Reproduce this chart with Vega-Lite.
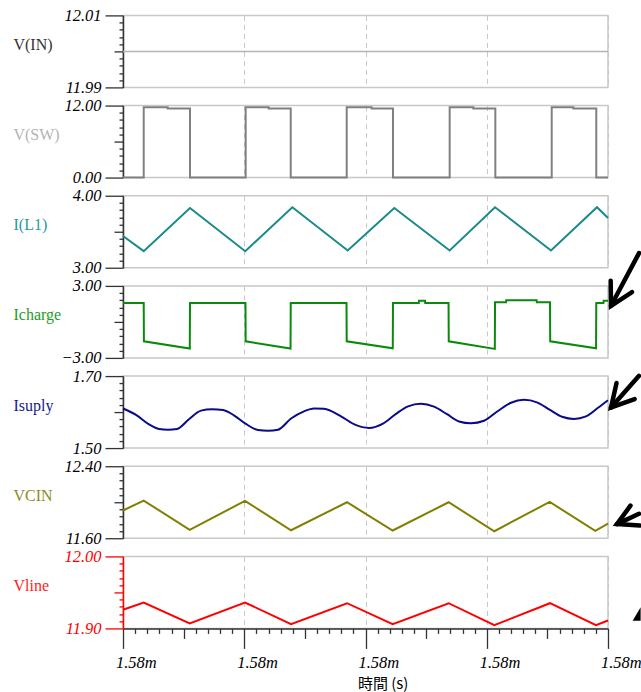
{
  "$schema": "https://vega.github.io/schema/vega-lite/v6.json",
  "background": "white",
  "padding": {"left": 12, "top": 6.4, "right": 0, "bottom": 0},
  "bounds": "flush",
  "spacing": 18.17,
  "config": {
    "view": {"stroke": "#c8c8c8", "strokeWidth": 1.5},
    "axisY": {
      "domainColor": "#333333", "domainWidth": 1.5, "tickColor": "#333333", "tickWidth": 1.3,
      "labelFont": "Liberation Serif", "labelFontStyle": "italic", "labelFontSize": 16.5, "labelColor": "#000000",
      "labelPadding": 4, "labelOverlap": false, "labelBaseline": "middle",
      "titleFont": "Liberation Serif", "titleFontSize": 16, "titleFontWeight": "normal", "titleAngle": 0,
      "titleAlign": "left", "titleBaseline": "middle", "titleX": -110, "titleY": 29, "grid": false
    }
  },
  "datasets": {
    "vin": [{"t": 1577.6, "v": 12.0}, {"t": 1578.9, "v": 12.0}, {"t": 1580.5, "v": 12.0}, {"t": 1582.4, "v": 12.0}],
    "vsw": [
      {"t": 1577.600, "v": 0}, {"t": 1577.805, "v": 11.72}, {"t": 1578.042, "v": 11.5}, {"t": 1578.263, "v": 0},
      {"t": 1578.814, "v": 11.72}, {"t": 1579.042, "v": 11.5}, {"t": 1579.260, "v": 0},
      {"t": 1579.814, "v": 11.72}, {"t": 1580.061, "v": 11.5}, {"t": 1580.272, "v": 0},
      {"t": 1580.833, "v": 11.72}, {"t": 1581.067, "v": 11.5}, {"t": 1581.285, "v": 0},
      {"t": 1581.843, "v": 11.72}, {"t": 1582.057, "v": 11.5}, {"t": 1582.284, "v": 0}, {"t": 1582.400, "v": 0}
    ],
    "il1": [
      {"t": 1577.600, "v": 3.44}, {"t": 1577.805, "v": 3.23}, {"t": 1578.263, "v": 3.83}, {"t": 1578.810, "v": 3.23},
      {"t": 1579.276, "v": 3.84}, {"t": 1579.824, "v": 3.24}, {"t": 1580.285, "v": 3.83}, {"t": 1580.833, "v": 3.24},
      {"t": 1581.282, "v": 3.84}, {"t": 1581.836, "v": 3.24}, {"t": 1582.291, "v": 3.84}, {"t": 1582.400, "v": 3.69}
    ],
    "icharge": [
      {"t": 1577.600, "v": 1.58}, {"t": 1577.805, "v": 1.58}, {"t": 1577.807, "v": -1.62}, {"t": 1578.261, "v": -2.22},
      {"t": 1578.263, "v": 1.58}, {"t": 1578.812, "v": 1.58}, {"t": 1578.814, "v": -1.62}, {"t": 1579.258, "v": -2.22},
      {"t": 1579.260, "v": 1.58}, {"t": 1579.812, "v": 1.58}, {"t": 1579.814, "v": -1.62}, {"t": 1580.270, "v": -2.2},
      {"t": 1580.272, "v": 1.58}, {"t": 1580.527, "v": 1.58}, {"t": 1580.529, "v": 1.77}, {"t": 1580.589, "v": 1.77},
      {"t": 1580.591, "v": 1.58}, {"t": 1580.822, "v": 1.58}, {"t": 1580.824, "v": -1.62}, {"t": 1581.280, "v": -2.25},
      {"t": 1581.282, "v": 1.63}, {"t": 1581.391, "v": 1.63}, {"t": 1581.393, "v": 1.8}, {"t": 1581.694, "v": 1.8},
      {"t": 1581.696, "v": 1.63}, {"t": 1581.826, "v": 1.63}, {"t": 1581.828, "v": -1.62}, {"t": 1582.282, "v": -2.2},
      {"t": 1582.284, "v": 1.58}, {"t": 1582.355, "v": 1.58}, {"t": 1582.357, "v": 1.77}, {"t": 1582.400, "v": 1.77}
    ],
    "isuply": [
      {"t": 1577.600, "v": 1.610}, {"t": 1577.729, "v": 1.592}, {"t": 1577.857, "v": 1.566}, {"t": 1577.956, "v": 1.553},
      {"t": 1578.045, "v": 1.551}, {"t": 1578.134, "v": 1.553}, {"t": 1578.253, "v": 1.580}, {"t": 1578.372, "v": 1.604},
      {"t": 1578.481, "v": 1.608}, {"t": 1578.590, "v": 1.606}, {"t": 1578.698, "v": 1.591}, {"t": 1578.817, "v": 1.567},
      {"t": 1578.936, "v": 1.550}, {"t": 1579.035, "v": 1.548}, {"t": 1579.134, "v": 1.551}, {"t": 1579.263, "v": 1.582},
      {"t": 1579.391, "v": 1.602}, {"t": 1579.490, "v": 1.610}, {"t": 1579.589, "v": 1.609}, {"t": 1579.758, "v": 1.588},
      {"t": 1579.896, "v": 1.565}, {"t": 1580.035, "v": 1.556}, {"t": 1580.173, "v": 1.568}, {"t": 1580.302, "v": 1.595},
      {"t": 1580.421, "v": 1.616}, {"t": 1580.549, "v": 1.623}, {"t": 1580.678, "v": 1.615}, {"t": 1580.807, "v": 1.594},
      {"t": 1580.925, "v": 1.574}, {"t": 1581.044, "v": 1.569}, {"t": 1581.173, "v": 1.576}, {"t": 1581.311, "v": 1.603},
      {"t": 1581.440, "v": 1.626}, {"t": 1581.569, "v": 1.634}, {"t": 1581.697, "v": 1.627}, {"t": 1581.826, "v": 1.606},
      {"t": 1581.945, "v": 1.587}, {"t": 1582.064, "v": 1.581}, {"t": 1582.182, "v": 1.588}, {"t": 1582.301, "v": 1.612},
      {"t": 1582.400, "v": 1.633}
    ],
    "vcin": [
      {"t": 1577.600, "v": 11.908}, {"t": 1577.805, "v": 12.019}, {"t": 1578.260, "v": 11.693}, {"t": 1578.807, "v": 12.015},
      {"t": 1579.263, "v": 11.689}, {"t": 1579.817, "v": 12.0}, {"t": 1580.269, "v": 11.686}, {"t": 1580.823, "v": 12.0},
      {"t": 1581.275, "v": 11.678}, {"t": 1581.823, "v": 12.004}, {"t": 1582.274, "v": 11.682}, {"t": 1582.400, "v": 11.763}
    ],
    "vline": [
      {"t": 1577.600, "v": 11.926}, {"t": 1577.805, "v": 11.936}, {"t": 1578.260, "v": 11.907}, {"t": 1578.807, "v": 11.936},
      {"t": 1579.263, "v": 11.906}, {"t": 1579.817, "v": 11.935}, {"t": 1580.269, "v": 11.906}, {"t": 1580.823, "v": 11.935},
      {"t": 1581.275, "v": 11.9045}, {"t": 1581.826, "v": 11.935}, {"t": 1582.281, "v": 11.9045}, {"t": 1582.400, "v": 11.911}
    ]
  },
  "vconcat": [
    {
      "width": 485, "height": 72,
      "data": {"name": "vin"},
      "mark": {"type": "line", "color": "#b4b4b4", "strokeWidth": 1.5},
      "encoding": {
        "x": {"field": "t", "type": "quantitative", "scale": {"domain": [1577.6, 1582.4], "nice": false, "zero": false},
          "axis": {"values": [1577.6, 1578.8, 1580.0, 1581.2, 1582.4], "labels": false, "ticks": false, "domain": false, "grid": true, "gridColor": "#c8c8c8", "gridDash": [5, 4], "gridWidth": 1, "title": null}},
        "y": {"field": "v", "type": "quantitative", "scale": {"domain": [11.99, 12.01], "nice": false, "zero": false},
          "axis": {"title": "V(IN)", "titleColor": "#333333",
            "values": [11.99, 11.992, 11.994, 11.996, 11.998, 12.0, 12.002, 12.004, 12.006, 12.008, 12.01],
            "labelExpr": "datum.index == 0 || datum.index == 1 ? format(datum.value, '.2f') : ''",
            "tickSize": {"condition": [{"test": "datum.index == 0 || datum.index == 1", "value": 18}, {"test": "abs(datum.index - 0.5) < 0.01", "value": 9}], "value": 4}}}
      }
    },
    {
      "width": 485, "height": 72,
      "data": {"name": "vsw"},
      "mark": {"type": "line", "color": "#808080", "strokeWidth": 2, "interpolate": "step-after"},
      "encoding": {
        "x": {"field": "t", "type": "quantitative", "scale": {"domain": [1577.6, 1582.4], "nice": false, "zero": false},
          "axis": {"values": [1577.6, 1578.8, 1580.0, 1581.2, 1582.4], "labels": false, "ticks": false, "domain": false, "grid": true, "gridColor": "#c8c8c8", "gridDash": [5, 4], "gridWidth": 1, "title": null}},
        "y": {"field": "v", "type": "quantitative", "scale": {"domain": [0, 12], "nice": false, "zero": false},
          "axis": {"title": "V(SW)", "titleColor": "#b4b4b4",
            "values": [0, 1.2, 2.4, 3.6, 4.8, 6, 7.2, 8.4, 9.6, 10.8, 12],
            "labelExpr": "datum.index == 0 || datum.index == 1 ? format(datum.value, '.2f') : ''",
            "tickSize": {"condition": [{"test": "datum.index == 0 || datum.index == 1", "value": 18}, {"test": "abs(datum.index - 0.5) < 0.01", "value": 9}], "value": 4}}}
      }
    },
    {
      "width": 485, "height": 72,
      "data": {"name": "il1"},
      "mark": {"type": "line", "color": "#1a8a8a", "strokeWidth": 2},
      "encoding": {
        "x": {"field": "t", "type": "quantitative", "scale": {"domain": [1577.6, 1582.4], "nice": false, "zero": false},
          "axis": {"values": [1577.6, 1578.8, 1580.0, 1581.2, 1582.4], "labels": false, "ticks": false, "domain": false, "grid": true, "gridColor": "#c8c8c8", "gridDash": [5, 4], "gridWidth": 1, "title": null}},
        "y": {"field": "v", "type": "quantitative", "scale": {"domain": [3, 4], "nice": false, "zero": false},
          "axis": {"title": "I(L1)", "titleColor": "#2a9a9a",
            "values": [3, 3.1, 3.2, 3.3, 3.4, 3.5, 3.6, 3.7, 3.8, 3.9, 4],
            "labelExpr": "datum.index == 0 || datum.index == 1 ? format(datum.value, '.2f') : ''",
            "tickSize": {"condition": [{"test": "datum.index == 0 || datum.index == 1", "value": 18}, {"test": "abs(datum.index - 0.5) < 0.01", "value": 9}], "value": 4}}}
      }
    },
    {
      "width": 485, "height": 72,
      "encoding": {
        "x": {"field": "t", "type": "quantitative", "scale": {"domain": [1577.6, 1582.4], "nice": false, "zero": false},
          "axis": {"values": [1577.6, 1578.8, 1580.0, 1581.2, 1582.4], "labels": false, "ticks": false, "domain": false, "grid": true, "gridColor": "#c8c8c8", "gridDash": [5, 4], "gridWidth": 1, "title": null}},
        "y": {"field": "v", "type": "quantitative", "scale": {"domain": [-3, 3], "nice": false, "zero": false},
          "axis": {"title": "Icharge", "titleColor": "#2a9a2a",
            "values": [-3, -2.4, -1.8, -1.2, -0.6, 0, 0.6, 1.2, 1.8, 2.4, 3],
            "labelExpr": "datum.index == 0 || datum.index == 1 ? format(datum.value, '.2f') : ''",
            "tickSize": {"condition": [{"test": "datum.index == 0 || datum.index == 1", "value": 18}, {"test": "abs(datum.index - 0.5) < 0.01", "value": 9}], "value": 4}}}
      },
      "layer": [
        {"data": {"name": "icharge"}, "mark": {"type": "line", "color": "#0a8a0a", "strokeWidth": 2}},
        {"data": {"values": [{"t": 1582.430, "v": 1.342, "t2": 1582.707, "v2": 5.733}]},
          "mark": {"type": "rule", "color": "#000000", "strokeWidth": 4.5, "strokeCap": "round"},
          "encoding": {"x2": {"field": "t2"}, "y2": {"field": "v2"}}},
        {"data": {"values": [{"t": 1582.430, "v": 1.342}]},
          "mark": {"type": "point", "shape": "M-1,-0.55L0,0L-1,0.55", "size": 1936, "angle": 118, "filled": false, "color": "#000000", "strokeWidth": 4.5, "strokeCap": "round", "opacity": 1}}
      ]
    },
    {
      "width": 485, "height": 72,
      "encoding": {
        "x": {"field": "t", "type": "quantitative", "scale": {"domain": [1577.6, 1582.4], "nice": false, "zero": false},
          "axis": {"values": [1577.6, 1578.8, 1580.0, 1581.2, 1582.4], "labels": false, "ticks": false, "domain": false, "grid": true, "gridColor": "#c8c8c8", "gridDash": [5, 4], "gridWidth": 1, "title": null}},
        "y": {"field": "v", "type": "quantitative", "scale": {"domain": [1.5, 1.7], "nice": false, "zero": false},
          "axis": {"title": "Isuply", "titleColor": "#1a1a8c",
            "values": [1.5, 1.52, 1.54, 1.56, 1.58, 1.6, 1.62, 1.64, 1.66, 1.68, 1.7],
            "labelExpr": "datum.index == 0 || datum.index == 1 ? format(datum.value, '.2f') : ''",
            "tickSize": {"condition": [{"test": "datum.index == 0 || datum.index == 1", "value": 18}, {"test": "abs(datum.index - 0.5) < 0.01", "value": 9}], "value": 4}}}
      },
      "layer": [
        {"data": {"name": "isuply"}, "mark": {"type": "line", "color": "#0a0a8a", "strokeWidth": 2, "interpolate": "monotone"}},
        {"data": {"values": [{"t": 1582.430, "v": 1.6128, "t2": 1582.707, "v2": 1.7006}]},
          "mark": {"type": "rule", "color": "#000000", "strokeWidth": 4.5, "strokeCap": "round"},
          "encoding": {"x2": {"field": "t2"}, "y2": {"field": "v2"}}},
        {"data": {"values": [{"t": 1582.430, "v": 1.6128}]},
          "mark": {"type": "point", "shape": "M-1,-0.55L0,0L-1,0.55", "size": 1936, "angle": 131.5, "filled": false, "color": "#000000", "strokeWidth": 4.5, "strokeCap": "round", "opacity": 1}}
      ]
    },
    {
      "width": 485, "height": 72,
      "encoding": {
        "x": {"field": "t", "type": "quantitative", "scale": {"domain": [1577.6, 1582.4], "nice": false, "zero": false},
          "axis": {"values": [1577.6, 1578.8, 1580.0, 1581.2, 1582.4], "labels": false, "ticks": false, "domain": false, "grid": true, "gridColor": "#c8c8c8", "gridDash": [5, 4], "gridWidth": 1, "title": null}},
        "y": {"field": "v", "type": "quantitative", "scale": {"domain": [11.6, 12.4], "nice": false, "zero": false},
          "axis": {"title": "VCIN", "titleColor": "#8c8c1e",
            "values": [11.6, 11.68, 11.76, 11.84, 11.92, 12.0, 12.08, 12.16, 12.24, 12.32, 12.4],
            "labelExpr": "datum.index == 0 || datum.index == 1 ? format(datum.value, '.2f') : ''",
            "tickSize": {"condition": [{"test": "datum.index == 0 || datum.index == 1", "value": 18}, {"test": "abs(datum.index - 0.5) < 0.01", "value": 9}], "value": 4}}}
      },
      "layer": [
        {"data": {"name": "vcin"}, "mark": {"type": "line", "color": "#808000", "strokeWidth": 2}},
        {"data": {"values": [{"t": 1582.489, "v": 11.757, "t2": 1582.707, "v2": 11.872}]},
          "mark": {"type": "rule", "color": "#000000", "strokeWidth": 4.5, "strokeCap": "round"},
          "encoding": {"x2": {"field": "t2"}, "y2": {"field": "v2"}}},
        {"data": {"values": [{"t": 1582.489, "v": 11.757}]},
          "mark": {"type": "point", "shape": "M-1,-0.55L0,0L-1,0.55", "size": 1600, "angle": 154.9, "filled": false, "color": "#000000", "strokeWidth": 4.5, "strokeCap": "round", "opacity": 1}}
      ]
    },
    {
      "width": 485, "height": 72,
      "encoding": {
        "x": {"field": "t", "type": "quantitative", "scale": {"domain": [1577.6, 1582.4], "nice": false, "zero": false},
          "axis": {
            "values": [1577.6, 1577.72, 1577.84, 1577.96, 1578.08, 1578.2, 1578.32, 1578.44, 1578.56, 1578.68, 1578.8, 1578.92, 1579.04, 1579.16, 1579.28, 1579.4, 1579.52, 1579.64, 1579.76, 1579.88, 1580.0, 1580.12, 1580.24, 1580.36, 1580.48, 1580.6, 1580.72, 1580.84, 1580.96, 1581.08, 1581.2, 1581.32, 1581.44, 1581.56, 1581.68, 1581.8, 1581.92, 1582.04, 1582.16, 1582.28, 1582.4],
            "labelExpr": "round(datum.index * 40) % 10 == 0 ? format(datum.value / 1000, '.2f') + 'm' : ''",
            "tickSize": {"condition": [{"test": "round(datum.index * 40) % 10 == 0", "value": 20}, {"test": "round(datum.index * 40) % 5 == 0", "value": 10}], "value": 5},
            "gridOpacity": {"condition": {"test": "round(datum.index * 40) % 10 == 0", "value": 1}, "value": 0},
            "grid": true, "gridColor": "#c8c8c8", "gridDash": [5, 4], "gridWidth": 1,
            "domainColor": "#333333", "domainWidth": 1.5, "tickColor": "#333333", "tickWidth": 1.3,
            "labelFont": "Liberation Serif", "labelFontStyle": "italic", "labelFontSize": 16.5, "labelColor": "#000000",
            "labelAlign": "left", "labelOffset": -7.5, "labelFlush": false, "labelOverlap": false, "labelBaseline": "middle", "labelPadding": 14.3,
            "title": "時間 (s)", "titleFont": "Noto Sans CJK TC", "titleFontSize": 15, "titleFontWeight": "normal", "titleColor": "#000000",
            "titleX": 259.7, "titleY": 55.3, "titleAlign": "center", "titleBaseline": "middle"
          }},
        "y": {"field": "v", "type": "quantitative", "scale": {"domain": [11.9, 12.0], "nice": false, "zero": false},
          "axis": {"title": "Vline", "titleColor": "#ff2020", "labelColor": "#ff0000", "domainColor": "#ff0000", "tickColor": "#ff0000",
            "values": [11.9, 11.91, 11.92, 11.93, 11.94, 11.95, 11.96, 11.97, 11.98, 11.99, 12.0],
            "labelExpr": "datum.index == 0 || datum.index == 1 ? format(datum.value, '.2f') : ''",
            "tickSize": {"condition": [{"test": "datum.index == 0 || datum.index == 1", "value": 18}, {"test": "abs(datum.index - 0.5) < 0.01", "value": 9}], "value": 4}}}
      },
      "layer": [
        {"data": {"name": "vline"}, "mark": {"type": "line", "color": "#ff0000", "strokeWidth": 2}},
        {"data": {"values": [{"t": 1582.644, "v": 11.9106}]},
          "mark": {"type": "point", "shape": "M0,0L1,-1.7L1,0Z", "size": 256, "filled": true, "color": "#000000", "opacity": 1}}
      ]
    }
  ]
}
